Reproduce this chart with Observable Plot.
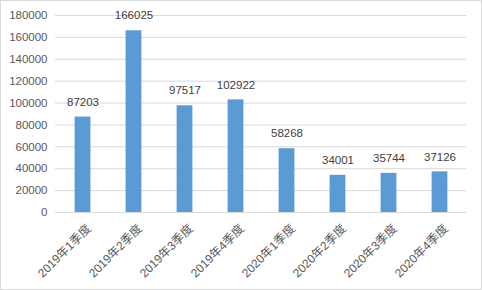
<!DOCTYPE html>
<html>
<head>
<meta charset="utf-8">
<script src="https://cdn.jsdelivr.net/npm/d3@7"></script>
<script src="https://cdn.jsdelivr.net/npm/@observablehq/plot@0.6"></script>
<style>
  html, body { margin: 0; padding: 0; background: #fff; }
  #chart svg { display: block; outline: 1px solid #d9d9d9; outline-offset: -1px; }
</style>
</head>
<body>
<div id="chart"></div>
<script>
const categories = ["2019年1季度","2019年2季度","2019年3季度","2019年4季度","2020年1季度","2020年2季度","2020年3季度","2020年4季度"];
const values = [87203, 166025, 97517, 102922, 58268, 34001, 35744, 37126];
const yTicks = [0, 20000, 40000, 60000, 80000, 100000, 120000, 140000, 160000, 180000];

const data = categories.map((c, i) => ({category: c, value: values[i]}));
const font = "'Liberation Sans', 'Noto Sans CJK SC', sans-serif";

const chart = Plot.plot({
  width: 482,
  height: 290,
  marginLeft: 55,
  marginRight: 16,
  marginTop: 15,
  marginBottom: 78,
  style: {fontFamily: font, fontSize: "11px", color: "#595959", background: "#fff"},
  x: {domain: categories, padding: 0, label: null},
  y: {domain: [0, 180000], label: null},
  marks: [
    Plot.ruleY(yTicks, {stroke: "#d9d9d9", strokeWidth: 1}),
    Plot.barY(data, {x: "category", y: "value", fill: "#5b9bd5", insetLeft: 17.6, insetRight: 17.6}),
    Plot.text(data, {x: "category", y: "value", text: d => String(d.value), dy: -15, fill: "#404040", fontSize: 11.5}),
    Plot.axisY({ticks: yTicks, tickSize: 0, tickPadding: 8, tickFormat: d => String(d), fill: "#595959", fontSize: 11.5}),
    Plot.axisX({tickSize: 0, tickRotate: -45, tickPadding: 0, dx: 6, dy: 14, fill: "#595959", fontSize: 12})
  ]
});
document.getElementById("chart").appendChild(chart);
</script>
</body>
</html>
